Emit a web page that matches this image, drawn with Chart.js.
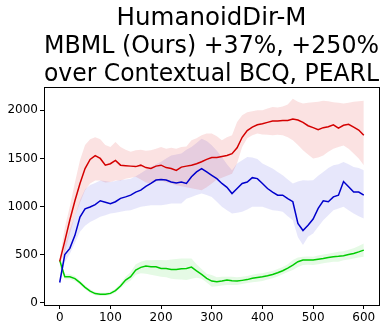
<!DOCTYPE html>
<html>
<head>
<meta charset="utf-8">
<script src="https://cdn.jsdelivr.net/npm/chart.js@4.4.1/dist/chart.umd.min.js"></script>
<style>
  html, body { margin: 0; padding: 0; background: #fff; }
  #wrap { width: 392px; height: 332px; }
</style>
</head>
<body>
<div id="wrap"><canvas id="chart" width="392" height="332"></canvas></div>
<script>
// training steps (x axis)
const steps = [0, 10, 20, 30, 40, 50, 60, 70, 80, 90, 100, 110, 120, 130, 140, 150, 160, 170, 180, 190,
  200, 210, 220, 230, 240, 250, 260, 270, 280, 290, 300, 310, 320, 330, 340, 350, 360, 370, 380, 390,
  400, 410, 420, 430, 440, 450, 460, 470, 480, 490, 500, 510, 520, 530, 540, 550, 560, 570, 580, 590, 600];

// MBML (Ours) - red
const mbmlMean = [430, 640, 860, 1060, 1240, 1395, 1490, 1530, 1500, 1430, 1445, 1480, 1430, 1425, 1420, 1415, 1430, 1405, 1395, 1420,
  1430, 1405, 1395, 1375, 1410, 1420, 1430, 1445, 1465, 1490, 1510, 1510, 1520, 1530, 1550, 1610, 1720, 1790, 1825, 1850,
  1860, 1875, 1890, 1890, 1895, 1895, 1910, 1900, 1875, 1840, 1820, 1800, 1820, 1830, 1850, 1815, 1845, 1855, 1825, 1795, 1740];
const mbmlUpper = [460, 780, 1000, 1250, 1480, 1640, 1700, 1720, 1700, 1640, 1620, 1670, 1620, 1590, 1570, 1585, 1590, 1580, 1585, 1600,
  1620, 1600, 1610, 1600, 1620, 1625, 1690, 1710, 1740, 1760, 1760, 1730, 1690, 1720, 1740, 1880, 1950, 1980, 1990, 2000,
  2000, 2020, 2035, 2030, 2040, 2060, 2120, 2090, 2070, 2080, 2085, 2090, 2100, 2095, 2085, 2080, 2070, 2080, 2090, 2095, 2100];
const mbmlLower = [400, 520, 720, 900, 1040, 1170, 1240, 1270, 1270, 1250, 1255, 1270, 1270, 1290, 1300, 1310, 1280, 1250, 1240, 1260,
  1270, 1250, 1240, 1220, 1210, 1200, 1190, 1180, 1170, 1200, 1240, 1280, 1300, 1320, 1340, 1450, 1620, 1710, 1740, 1760,
  1750, 1745, 1740, 1745, 1740, 1720, 1690, 1640, 1585, 1540, 1500, 1510, 1530, 1570, 1600, 1620, 1635, 1600, 1550, 1500, 1430];

// Contextual BCQ - blue
const bcqMean = [210, 500, 565, 700, 890, 975, 995, 1020, 1060, 1045, 1030, 1050, 1085, 1100, 1118, 1150, 1170, 1210, 1240, 1275,
  1280, 1275, 1255, 1245, 1255, 1240, 1310, 1360, 1395, 1360, 1325, 1290, 1240, 1200, 1135, 1187, 1240, 1255, 1300, 1290,
  1240, 1187, 1150, 1118, 1118, 1083, 1050, 823, 750, 806, 870, 980, 1060, 1050, 1100, 1118, 1260, 1205, 1150, 1150, 1118];
const bcqUpper = [230, 600, 760, 900, 1065, 1180, 1225, 1245, 1270, 1265, 1255, 1265, 1275, 1280, 1290, 1315, 1345, 1380, 1410, 1440,
  1465, 1500, 1530, 1540, 1550, 1590, 1620, 1660, 1705, 1680, 1637, 1580, 1515, 1440, 1377, 1446, 1480, 1515, 1510, 1495,
  1446, 1420, 1394, 1360, 1325, 1280, 1239, 1260, 1273, 1270, 1273, 1320, 1360, 1400, 1429, 1440, 1463, 1440, 1412, 1400, 1377];
const bcqLower = [190, 420, 510, 620, 737, 800, 840, 865, 893, 910, 927, 935, 945, 955, 962, 980, 997, 1005, 1014, 1014,
  1014, 1020, 1031, 1031, 1031, 1080, 1100, 1120, 1135, 1120, 1100, 1050, 997, 960, 927, 935, 945, 970, 997, 997,
  997, 980, 962, 955, 945, 900, 858, 680, 600, 685, 720, 790, 858, 910, 962, 980, 997, 960, 927, 900, 875];

// PEARL - green
const pearlMean = [440, 270, 270, 250, 208, 160, 121, 95, 87, 87, 97, 125, 173, 235, 270, 340, 367, 382, 374, 374,
  356, 356, 346, 346, 353, 356, 370, 330, 294, 253, 225, 218, 225, 235, 228, 225, 232, 240, 253, 262,
  270, 280, 294, 312, 332, 360, 391, 426, 443, 445, 443, 452, 460, 470, 478, 482, 488, 500, 512, 528, 547];
const pearlUpper = [500, 295, 295, 275, 228, 180, 140, 112, 104, 104, 115, 145, 200, 270, 320, 400, 425, 440, 440, 445,
  443, 440, 450, 455, 460, 460, 460, 400, 350, 300, 287, 265, 270, 270, 270, 265, 270, 278, 290, 300,
  305, 318, 330, 350, 370, 400, 443, 470, 478, 480, 478, 490, 500, 510, 520, 529, 535, 550, 565, 590, 616];
const pearlLower = [380, 245, 245, 225, 190, 140, 102, 78, 70, 70, 80, 105, 150, 200, 230, 290, 305, 300, 290, 280,
  270, 265, 250, 245, 240, 235, 250, 260, 250, 210, 166, 170, 178, 183, 183, 185, 195, 205, 212, 218,
  225, 240, 255, 272, 295, 320, 339, 370, 391, 395, 391, 400, 410, 418, 425, 425, 440, 450, 460, 470, 478];

const yTicks = [0, 500, 1000, 1500, 2000];
const xTicks = [0, 100, 200, 300, 400, 500, 600];

const titleLines = ['HumanoidDir-M', 'MBML (Ours) +37%, +250%', 'over Contextual BCQ, PEARL'];

function pts(ys) {
    return ys.map((y, i) => ({ x: steps[i], y: y }));
}

function lineSet(ys, color) {
    return { data: pts(ys), borderColor: color, borderWidth: 1.5, pointRadius: 0, fill: false, tension: 0 };
}

function bandEdge(ys, target, fillColor) {
    return {
        data: pts(ys), borderWidth: 0, borderColor: 'transparent', pointRadius: 0, tension: 0,
        backgroundColor: fillColor,
        fill: target === null ? false : { target: target }
    };
}

// matplotlib style box round the axes
const frame = {
    id: 'frame',
    afterDraw(chart) {
        const a = chart.chartArea;
        const c = chart.ctx;
        c.save();
        c.strokeStyle = '#000';
        c.lineWidth = 1;
        c.strokeRect(Math.round(a.left) + 0.5, Math.round(a.top) + 0.5,
            Math.round(a.right - a.left), Math.round(a.bottom - a.top));
        c.restore();
    }
};

new Chart(document.getElementById('chart').getContext('2d'), {
    type: 'line',
    data: {
        datasets: [
            lineSet(mbmlMean, '#d40000'),
            lineSet(bcqMean, '#0000cc'),
            lineSet(pearlMean, '#00cc00'),
            bandEdge(mbmlUpper, null, 'transparent'),
            bandEdge(mbmlLower, 3, 'rgba(220, 20, 20, 0.12)'),
            bandEdge(bcqUpper, null, 'transparent'),
            bandEdge(bcqLower, 5, 'rgba(40, 40, 220, 0.11)'),
            bandEdge(pearlUpper, null, 'transparent'),
            bandEdge(pearlLower, 7, 'rgba(20, 210, 20, 0.11)')
        ]
    },
    options: {
        responsive: false,
        animation: false,
        layout: { padding: { right: 13, left: 0, top: 0, bottom: 0 } },
        plugins: {
            legend: { display: false },
            tooltip: { enabled: false },
            title: {
                display: true,
                text: titleLines,
                fullSize: false,
                color: '#000',
                font: { family: 'DejaVu Sans', size: 24.5, weight: 'normal', lineHeight: 1.16 },
                padding: { top: 4, bottom: -2 }
            }
        },
        scales: {
            x: {
                type: 'linear',
                min: -31,
                max: 630,
                afterBuildTicks: (s) => { s.ticks = xTicks.map(v => ({ value: v })); },
                afterFit: (s) => { s.height = 27; },
                grid: { drawOnChartArea: false, drawTicks: true, tickLength: 4, tickColor: '#000' },
                border: { display: false },
                ticks: { color: '#000', font: { family: 'DejaVu Sans', size: 12 }, padding: 2, maxRotation: 0,
                    callback: (v) => String(v) }
            },
            y: {
                min: -24,
                max: 2240,
                afterBuildTicks: (s) => { s.ticks = yTicks.map(v => ({ value: v })); },
                afterFit: (s) => { s.width = 44; },
                grid: { drawOnChartArea: false, drawTicks: true, tickLength: 4, tickColor: '#000' },
                border: { display: false },
                ticks: { color: '#000', font: { family: 'DejaVu Sans', size: 12 }, padding: 2,
                    callback: (v) => String(v) }
            }
        }
    },
    plugins: [frame]
});
</script>
</body>
</html>
